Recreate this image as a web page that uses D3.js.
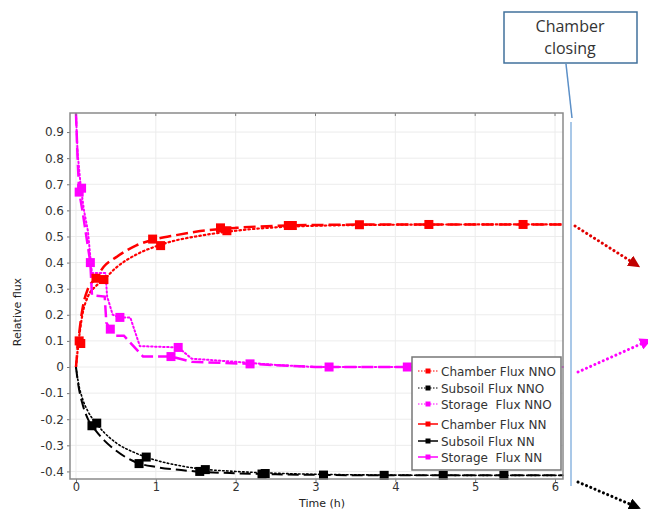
<!DOCTYPE html>
<html>
<head>
<meta charset="utf-8">
<script src="https://cdn.jsdelivr.net/npm/d3@7"></script>
<style>
  body { margin: 0; background: #fff; }
  svg { display: block; font-family: "DejaVu Sans", sans-serif; }
</style>
</head>
<body>
<svg id="chart" width="648" height="509"></svg>
<script>
// ---- data ----
let xTicks = [0, 1, 2, 3, 4, 5, 6];
let yTicks = [0.9, 0.8, 0.7, 0.6, 0.5, 0.4, 0.3, 0.2, 0.1, 0, -0.1, -0.2, -0.3, -0.4];

let tSmooth = [0, 0.03, 0.08, 0.15, 0.25, 0.35, 0.5, 0.75, 1.0, 1.25, 1.5, 2.0, 2.5, 3, 4, 5, 6.1];
let chamberNN = [0, 0.1, 0.22, 0.3, 0.34, 0.385, 0.42, 0.465, 0.49, 0.505, 0.518, 0.533, 0.541, 0.544, 0.546, 0.546, 0.546];
let chamberNNO = [0, 0.09, 0.2, 0.27, 0.31, 0.335, 0.38, 0.43, 0.462, 0.485, 0.5, 0.522, 0.535, 0.541, 0.545, 0.546, 0.546];
let subsoilNN = [0, -0.07, -0.14, -0.2, -0.245, -0.28, -0.32, -0.365, -0.383, -0.393, -0.4, -0.407, -0.411, -0.413, -0.415, -0.415, -0.415];
let subsoilNNO = [0, -0.06, -0.12, -0.17, -0.215, -0.25, -0.29, -0.33, -0.357, -0.375, -0.388, -0.4, -0.407, -0.411, -0.414, -0.415, -0.415];

let storageNNTime = [0, 0.02, 0.04, 0.08, 0.13, 0.18, 0.2, 0.36, 0.38, 0.43, 0.5, 0.6, 0.84, 1.19, 1.45, 2.18, 3, 6.1];
let storageNN = [0.97, 0.8, 0.67, 0.6, 0.5, 0.4, 0.275, 0.27, 0.17, 0.145, 0.12, 0.12, 0.04, 0.04, 0.02, 0.012, 0, 0];
let storageNNOTime = [0, 0.02, 0.06, 0.1, 0.15, 0.18, 0.2, 0.37, 0.39, 0.46, 0.55, 0.68, 0.8, 1.28, 1.45, 2.0, 2.5, 3, 6.1];
let storageNNO = [0.97, 0.82, 0.69, 0.6, 0.52, 0.42, 0.36, 0.36, 0.27, 0.2, 0.19, 0.19, 0.08, 0.075, 0.032, 0.02, 0.008, 0, 0];

// marker positions [time, value]
let chamberNNMarks = [[0.04, 0.1], [0.25, 0.34], [0.96, 0.49], [1.81, 0.533], [2.66, 0.542], [3.55, 0.545], [4.42, 0.546]];
let chamberNNOMarks = [[0.06, 0.09], [0.35, 0.335], [1.06, 0.465], [1.89, 0.522], [2.71, 0.542], [5.6, 0.546]];
let subsoilNNMarks = [[0.2, -0.225], [0.79, -0.37], [1.55, -0.4], [2.33, -0.41], [3.1, -0.414], [3.86, -0.415]];
let subsoilNNOMarks = [[0.26, -0.215], [0.88, -0.345], [1.62, -0.393], [2.37, -0.408], [4.6, -0.415], [5.36, -0.415]];
let storageNNMarks = [[0.04, 0.67], [0.18, 0.4], [0.43, 0.145], [1.19, 0.04], [2.18, 0.012], [3.17, 0], [4.15, 0]];
let storageNNOMarks = [[0.07, 0.685], [0.55, 0.19], [1.28, 0.075]];

let seriesNames = ['Chamber Flux NNO', 'Subsoil Flux NNO', 'Storage  Flux NNO', 'Chamber Flux NN', 'Subsoil Flux NN', 'Storage  Flux NN'];

// ---- setup ----
let svg = d3.select('#chart');
let plot = { left: 70, right: 563, top: 113, bottom: 479 };

let xScale = d3.scaleLinear().domain([-0.075, 6.1]).range([plot.left, plot.right]);
let yScale = d3.scaleLinear().domain([-0.429, 0.973]).range([plot.bottom, plot.top]);

let series = [
	{ name: seriesNames[0], t: tSmooth, v: chamberNNO, marks: chamberNNOMarks, color: '#ff0000', dash: '1.5,3', width: 2.2, curve: d3.curveMonotoneX },
	{ name: seriesNames[1], t: tSmooth, v: subsoilNNO, marks: subsoilNNOMarks, color: '#000', dash: '1.5,2.5', width: 1.6, curve: d3.curveMonotoneX },
	{ name: seriesNames[2], t: storageNNOTime, v: storageNNO, marks: storageNNOMarks, color: '#ff00ff', dash: '1.5,2.5', width: 2, curve: d3.curveLinear },
	{ name: seriesNames[3], t: tSmooth, v: chamberNN, marks: chamberNNMarks, color: '#ff0000', dash: '12,5', width: 2.5, curve: d3.curveMonotoneX },
	{ name: seriesNames[4], t: tSmooth, v: subsoilNN, marks: subsoilNNMarks, color: '#000', dash: '11,5', width: 2, curve: d3.curveMonotoneX },
	{ name: seriesNames[5], t: storageNNTime, v: storageNN, marks: storageNNMarks, color: '#ff00ff', dash: '12,5', width: 2.5, curve: d3.curveLinear }
];

// ---- grid ----
svg.append('g')
	.selectAll('line')
	.data(xTicks)
	.enter()
	.append('line')
	.attr('x1', (d) => xScale(d)).attr('x2', (d) => xScale(d))
	.attr('y1', plot.top).attr('y2', plot.bottom)
	.attr('stroke', '#ececec');

svg.append('g')
	.selectAll('line')
	.data(yTicks)
	.enter()
	.append('line')
	.attr('x1', plot.left).attr('x2', plot.right)
	.attr('y1', (d) => yScale(d)).attr('y2', (d) => yScale(d))
	.attr('stroke', '#ececec');

// ---- lines ----
series.forEach((s) => {
	let pts = s.t.map((t, i) => [t, s.v[i]]);
	let line = d3.line()
		.x((d) => xScale(d[0]))
		.y((d) => yScale(d[1]))
		.curve(s.curve);
	svg.append('path')
		.attr('d', line(pts))
		.attr('fill', 'none')
		.attr('stroke', s.color)
		.attr('stroke-width', s.width)
		.attr('stroke-dasharray', s.dash)
		.attr('stroke-linecap', s.dash.startsWith('1.5') ? 'round' : 'butt');
});

// ---- markers ----
series.forEach((s) => {
	svg.append('g')
		.selectAll('rect')
		.data(s.marks)
		.enter()
		.append('rect')
		.attr('x', (d) => xScale(d[0]) - 4.5)
		.attr('y', (d) => yScale(d[1]) - 4.5)
		.attr('width', 9)
		.attr('height', 9)
		.attr('fill', s.color);
});

// ---- axes ----
let xAxis = d3.axisBottom(xScale).tickValues(xTicks).tickSize(3).tickFormat(d3.format('d'));
let yAxis = d3.axisLeft(yScale).tickValues(yTicks).tickSize(3).tickFormat((d) => d === 0 ? '0' : d3.format('.1f')(d).replace('−', '-'));

let gx = svg.append('g').attr('transform', 'translate(0,' + plot.bottom + ')').call(xAxis);
let gy = svg.append('g').attr('transform', 'translate(' + plot.left + ',0)').call(yAxis);

[gx, gy].forEach((g) => {
	g.select('.domain').remove();
	g.selectAll('.tick line').attr('stroke', '#777');
	g.selectAll('.tick text').attr('fill', '#333').style('font-size', '12px').style('font-family', '"DejaVu Sans", sans-serif');
});
gx.selectAll('.tick text').attr('y', 4).attr('dy', '0.71em').style('font-size', '11.5px');
gy.selectAll('.tick text').attr('x', -6);

// top ticks
svg.append('g')
	.selectAll('line')
	.data(xTicks)
	.enter()
	.append('line')
	.attr('x1', (d) => xScale(d)).attr('x2', (d) => xScale(d))
	.attr('y1', plot.top).attr('y2', plot.top + 3)
	.attr('stroke', '#777');

// frame
svg.append('rect')
	.attr('x', plot.left).attr('y', plot.top)
	.attr('width', plot.right - plot.left).attr('height', plot.bottom - plot.top)
	.attr('fill', 'none')
	.attr('stroke', '#8a8a8a')
	.attr('stroke-width', 1.5);

// axis titles
svg.append('text')
	.attr('x', 322).attr('y', 507)
	.attr('text-anchor', 'middle')
	.style('font-size', '11px')
	.attr('fill', '#222')
	.text('Time (h)');

svg.append('text')
	.attr('transform', 'translate(21,312) rotate(-90)')
	.attr('text-anchor', 'middle')
	.style('font-size', '11px')
	.attr('fill', '#222')
	.text('Relative flux');

// ---- legend ----
let legend = svg.append('g');
legend.append('rect')
	.attr('x', 412).attr('y', 357)
	.attr('width', 149).attr('height', 113)
	.attr('fill', '#fff')
	.attr('stroke', '#777')
	.attr('stroke-width', 1.5);

let legendY = [371, 388, 404, 424, 441, 457];
series.forEach((s, i) => {
	let yy = legendY[i];
	let dotted = i < 3;
	legend.append('line')
		.attr('x1', 418).attr('x2', 438)
		.attr('y1', yy).attr('y2', yy)
		.attr('stroke', s.color)
		.attr('stroke-width', dotted ? 1 : 1.5)
		.attr('stroke-dasharray', dotted ? '1.5,1.5' : null);
	legend.append('rect')
		.attr('x', 425.5).attr('y', yy - 2.5)
		.attr('width', 5).attr('height', 5)
		.attr('fill', s.color);
	legend.append('text')
		.attr('x', 441).attr('y', yy + 4.5)
		.style('font-size', '12px')
		.style('white-space', 'pre')
		.attr('fill', '#333')
		.text(s.name);
});

// ---- annotation: chamber closing ----
svg.append('line')
	.attr('x1', 571).attr('x2', 571)
	.attr('y1', 122).attr('y2', 486)
	.attr('stroke', '#a9c8e8')
	.attr('stroke-width', 2);

svg.append('line')
	.attr('x1', 566).attr('y1', 64)
	.attr('x2', 572).attr('y2', 118)
	.attr('stroke', '#5b8fc7')
	.attr('stroke-width', 1.5);

svg.append('rect')
	.attr('x', 504).attr('y', 12)
	.attr('width', 133).attr('height', 51)
	.attr('fill', '#fff')
	.attr('stroke', '#41719c')
	.attr('stroke-width', 1.5);

svg.append('text')
	.attr('x', 570).attr('y', 32)
	.attr('text-anchor', 'middle')
	.style('font-family', '"Open Sans", sans-serif')
	.style('font-size', '16px')
	.attr('fill', '#333')
	.text('Chamber');
svg.append('text')
	.attr('x', 570).attr('y', 54)
	.attr('text-anchor', 'middle')
	.style('font-family', '"Open Sans", sans-serif')
	.style('font-size', '16px')
	.attr('fill', '#333')
	.text('closing');

// ---- dotted arrows pointing outward ----
let defs = svg.append('defs');
let arrows = [
	{ id: 'ar-red', color: '#e00000', head: '#c00000', from: [575, 226], to: [632, 262] },
	{ id: 'ar-mag', color: '#ff00ff', head: '#ff00ff', from: [578, 372], to: [643, 343] },
	{ id: 'ar-blk', color: '#000', head: '#000', from: [578, 482], to: [632, 505] }
];
arrows.forEach((a) => {
	defs.append('marker')
		.attr('id', a.id)
		.attr('viewBox', '0 0 10 10')
		.attr('refX', 2).attr('refY', 5)
		.attr('markerWidth', 4).attr('markerHeight', 4)
		.attr('markerUnits', 'strokeWidth')
		.attr('orient', 'auto')
		.append('path')
		.attr('d', 'M0,0 L10,5 L0,10 z')
		.attr('fill', a.head);
	svg.append('line')
		.attr('x1', a.from[0]).attr('y1', a.from[1])
		.attr('x2', a.to[0]).attr('y2', a.to[1])
		.attr('stroke', a.color)
		.attr('stroke-width', 3)
		.attr('stroke-dasharray', '0.1,4.5')
		.attr('stroke-linecap', 'round')
		.attr('marker-end', 'url(#' + a.id + ')');
});
</script>
</body>
</html>
